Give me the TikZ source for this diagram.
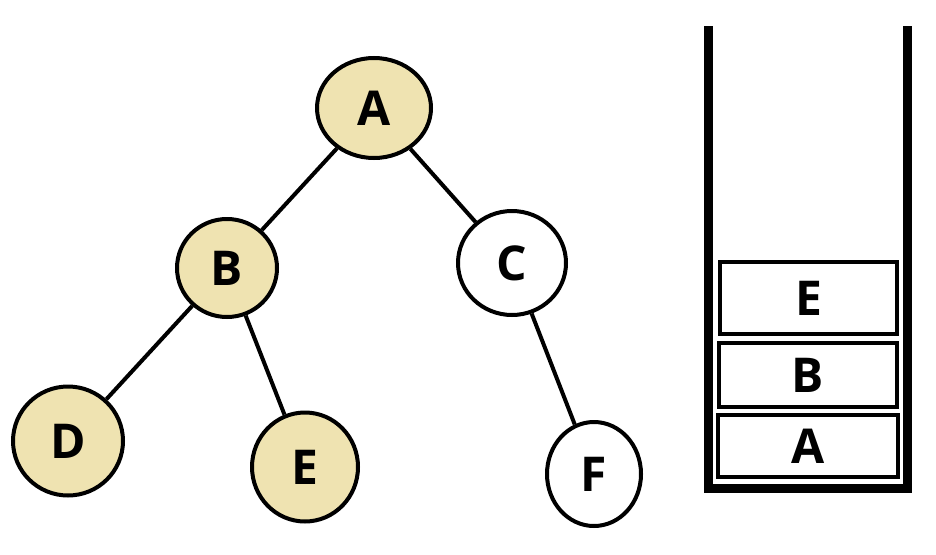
\documentclass[tikz,border=0pt]{standalone}
\usepackage{fontspec}
\setmainfont{Open Sans}
\usetikzlibrary{shapes.geometric}
\definecolor{tan}{RGB}{239,227,177}
\begin{document}
\begin{tikzpicture}[x=1pt,y=-1pt,
  every node/.style={font=\fontsize{48}{48}\selectfont\bfseries, inner sep=0pt},
  tnode/.style={ellipse, draw, line width=4pt},
  visited/.style={tnode, fill=tan},
  fresh/.style={tnode, fill=white},
  edge/.style={line width=4pt},
  cell/.style={rectangle, draw, line width=4.5pt, minimum width=#1, inner sep=0pt},
]
\useasboundingbox (0,0) rectangle (936,554);
\node[visited, minimum width=114pt, minimum height=100pt] (A) at (374,108) {A};
\node[visited, minimum width=100pt, minimum height=98pt] (B) at (227,268) {B};
\node[fresh, minimum width=108pt, minimum height=104pt] (C) at (512,263) {C};
\node[visited, minimum width=110pt, minimum height=109pt] (D) at (68,441) {D};
\node[visited, minimum width=106pt, minimum height=109pt] (E) at (305,467) {E};
\node[fresh, minimum width=94pt, minimum height=104pt] (F) at (594,474) {F};
\draw[edge] (A) -- (B);
\draw[edge] (A) -- (C);
\draw[edge] (B) -- (D);
\draw[edge] (B) -- (E);
\draw[edge] (C) -- (F);
% stack container
\draw[line width=9pt, miter limit=10] (708.5,26) -- (708.5,488) -- (907.5,488) -- (907.5,26);
\node[cell=177pt, minimum height=72pt] (sE) at (808.5,298) {E};
\node[cell=178pt, minimum height=64pt] (sB) at (808,375) {B};
\node[cell=180pt, minimum height=62pt] (sA) at (808,446) {A};
\end{tikzpicture}
\end{document}
